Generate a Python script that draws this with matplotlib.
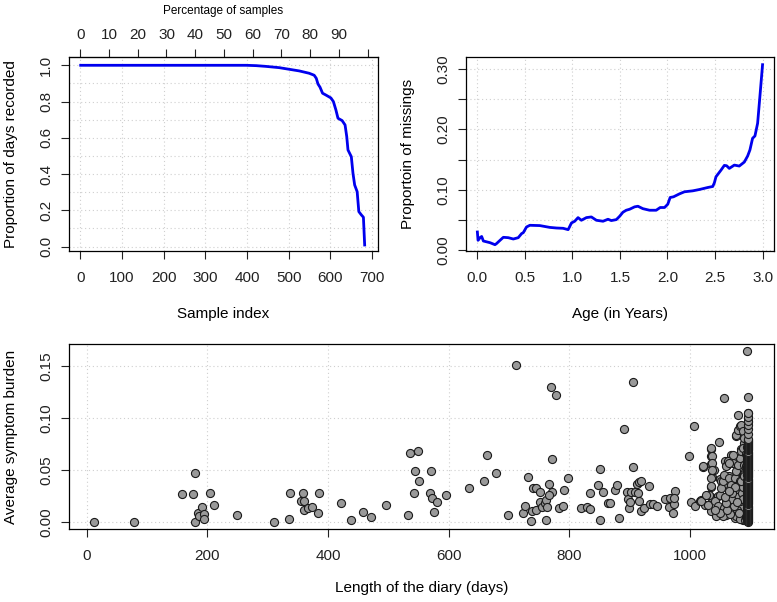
import matplotlib.pyplot as plt

plt.rcParams['font.family'] = ['Liberation Sans', 'DejaVu Sans']

# top left: sorted proportion of days recorded
n_samples = 689
sample_idx = [1, 398, 422, 445, 477, 501, 525, 549, 561, 566, 570, 575, 581, 589,
              601, 607, 613, 618, 628, 635, 639, 642, 650, 654, 658, 664, 668,
              674, 679, 682]
prop_recorded = [1.0, 1.0, 0.998, 0.994, 0.987, 0.978, 0.969, 0.956, 0.945, 0.928,
                 0.897, 0.879, 0.846, 0.836, 0.82, 0.8, 0.754, 0.708, 0.695, 0.671,
                 0.607, 0.533, 0.496, 0.404, 0.34, 0.303, 0.193, 0.175, 0.162, 0.009]

# top right: proportion of missings by age
age_years = [0.0, 0.007, 0.028, 0.045, 0.063, 0.133, 0.185, 0.2, 0.238, 0.273, 0.325,
             0.378, 0.43, 0.465, 0.483, 0.517, 0.552, 0.657, 0.762, 0.832, 0.902,
             0.955, 0.99, 1.024, 1.059, 1.094, 1.147, 1.199, 1.252, 1.322, 1.374,
             1.409, 1.462, 1.497, 1.531, 1.566, 1.601, 1.654, 1.689, 1.741, 1.811,
             1.881, 1.923, 1.969, 2.003, 2.028, 2.063, 2.126, 2.178, 2.266, 2.336,
             2.423, 2.476, 2.493, 2.51, 2.563, 2.598, 2.622, 2.65, 2.703, 2.755,
             2.808, 2.843, 2.867, 2.895, 2.92, 2.948, 2.972, 3.0]
prop_missing = [0.0304, 0.0166, 0.021, 0.023, 0.0155, 0.0127, 0.0094, 0.011, 0.0166,
                0.0216, 0.021, 0.0188, 0.021, 0.0277, 0.0293, 0.0387, 0.0415, 0.041,
                0.038, 0.037, 0.0365, 0.0343, 0.0454, 0.0482, 0.0542, 0.0498, 0.0542,
                0.0553, 0.0498, 0.0482, 0.0515, 0.0493, 0.0509, 0.0565, 0.0631,
                0.0664, 0.068, 0.072, 0.073, 0.069, 0.0664, 0.0664, 0.0709, 0.0709,
                0.0764, 0.0875, 0.0886, 0.0935, 0.0969, 0.0985, 0.1007, 0.104,
                0.1057, 0.1118, 0.1218, 0.1328, 0.1406, 0.14, 0.1356, 0.1411, 0.1395,
                0.1461, 0.1561, 0.1661, 0.1854, 0.1893, 0.2103, 0.2546, 0.3072]

# bottom: diary length vs average symptom burden
diary_len = [13, 79, 158, 177, 180, 179, 185, 187, 192, 194, 195, 204, 211, 250, 311,
             335, 337, 355, 359, 360, 361, 367, 374, 384, 386, 422, 439, 458, 472,
             496, 532, 536, 550, 545, 551, 542, 571, 569, 572, 580, 576, 596, 633,
             659, 664, 679, 699, 712, 724, 727, 732, 736, 738, 739, 744, 745, 752,
             752, 755, 760, 761, 762, 763, 766, 770, 771, 772, 767, 778, 783, 790,
             791, 797, 820, 830, 834, 834, 848, 851, 851, 856, 864, 867, 876, 879,
             882, 891, 895, 897, 899, 901, 902, 906, 905, 908, 912, 914, 915, 916,
             918, 919, 923, 932, 933, 938, 945, 959, 966, 965, 972, 974, 975, 974,
             998, 1002, 1007, 1008, 1016, 1018, 1021, 1024, 1029, 1034, 1034, 1035,
             1035, 1035, 1036, 1035, 1039, 1043, 1046, 1048, 1049, 1051, 1054, 1057,
             1057, 1058, 1060, 1062, 1064, 1065, 1068, 1071, 1073, 1075, 1076, 1079,
             1080, 1083, 1085, 1086, 1087, 1088, 1090, 1091, 1093, 1095, 1096, 1096,
             1096, 1096,
             1035, 1037, 1037, 1036, 1035, 1035, 1021, 1032, 1018, 1026, 1029, 1041,
             1046, 1049, 1052, 1054, 1057, 1060, 1063, 1065, 1068, 1071, 1074, 1076,
             1079, 1082, 1085, 1087, 1071, 1065, 1082, 1085, 1087, 1076, 1071, 1060,
             1057, 1054, 1049, 1041, 1065, 1074, 1079, 1082, 1085, 1087, 1090, 1090,
             1092, 1090, 1093, 1076, 1079, 1082, 1085, 1087, 1090,
             1088, 1090, 1092, 1089, 1091, 1093, 1094, 1092, 1094, 1093, 1086, 1084,
             1082, 1080, 1078, 1076, 1083, 1079, 1086, 1088, 1085, 1090, 1072, 1068,
             1066, 1062, 1070, 1074, 1060, 1058, 1064, 1094, 1092, 1094, 1091, 1087,
             1081, 1077, 1089, 1093]
burden = [0.0, 0.0, 0.027, 0.0267, 0.047, 0.0, 0.0087, 0.0061, 0.0148, 0.0077, 0.0029,
          0.028, 0.0164, 0.0071, 0.0, 0.0032, 0.028, 0.0206, 0.028, 0.02, 0.0116,
          0.0135, 0.0148, 0.0084, 0.028, 0.0183, 0.0019, 0.0096, 0.0051, 0.0167,
          0.0064, 0.0662, 0.0687, 0.0488, 0.0395, 0.028, 0.0488, 0.028, 0.0234,
          0.019, 0.01, 0.026, 0.0328, 0.0398, 0.0642, 0.0469, 0.0067, 0.1513, 0.0087,
          0.016, 0.0437, 0.001, 0.0103, 0.0324, 0.0324, 0.0119, 0.0286, 0.0193,
          0.0141, 0.0183, 0.0022, 0.0215, 0.0145, 0.0363, 0.1304, 0.0286, 0.0607,
          0.0263, 0.122, 0.0135, 0.0151, 0.0305, 0.0424, 0.0138, 0.0145, 0.0125,
          0.028, 0.0357, 0.0514, 0.0019, 0.0292, 0.0183, 0.0183, 0.0308, 0.0353,
          0.0042, 0.0896, 0.0292, 0.0222, 0.0135, 0.0193, 0.0286, 0.1352, 0.053,
          0.0286, 0.0366, 0.028, 0.0199, 0.0382, 0.0398, 0.0109, 0.0132, 0.0344,
          0.017, 0.0177, 0.0151, 0.0222, 0.0234, 0.0145, 0.0087, 0.017, 0.0296,
          0.0228, 0.0636, 0.0193, 0.0922, 0.0151, 0.0199, 0.0215, 0.0527, 0.0167,
          0.0257, 0.0244, 0.0103, 0.0707, 0.0633, 0.0562, 0.043, 0.0337, 0.0504,
          0.0055, 0.0254, 0.0768, 0.0414, 0.0392, 0.0357, 0.1192, 0.0087, 0.0585,
          0.0215, 0.0553, 0.0447, 0.0183, 0.0649, 0.0569, 0.0382, 0.028, 0.0826,
          0.1034, 0.0874, 0.0912, 0.0707, 0.0922, 0.0639, 0.0472, 0.0761, 0.0215,
          0.0938, 0.1651, 0.1205, 0.105, 0.1002, 0.0961,
          0.0713, 0.0633, 0.0569, 0.0505, 0.0424, 0.0344, 0.0537, 0.0264, 0.02,
          0.0264, 0.0168, 0.02, 0.0152, 0.0264, 0.0328, 0.0392, 0.0457, 0.0537,
          0.0585, 0.0424, 0.036, 0.0296, 0.0424, 0.0489, 0.0553, 0.0617, 0.0681,
          0.0713, 0.0649, 0.0569, 0.0392, 0.0264, 0.0168, 0.02, 0.0104, 0.0071,
          0.0136, 0.0055, 0.0087, 0.012, 0.0168, 0.0039, 0.0104, 0.0039, 0.0312,
          0.0457, 0.0553, 0.036, 0.0232, 0.0104, 0.0055, 0.0842, 0.089, 0.0922,
          0.0938, 0.0874, 0.081,
          0.002, 0.006, 0.012, 0.018, 0.024, 0.030, 0.036, 0.042, 0.048, 0.054,
          0.008, 0.014, 0.020, 0.026, 0.012, 0.006, 0.003, 0.032, 0.028, 0.034,
          0.040, 0.046, 0.016, 0.022, 0.008, 0.012, 0.028, 0.034, 0.018, 0.024,
          0.030, 0.060, 0.066, 0.072, 0.002, 0.022, 0.009, 0.019, 0.044, 0.005]
# the solid stack of full-length diaries at ~1096 days
stack_len = 1096
stack_burden = [0.000, 0.001, 0.002, 0.003, 0.004, 0.005, 0.006, 0.007, 0.008, 0.009,
                0.010, 0.011, 0.012, 0.013, 0.014, 0.015, 0.016, 0.017, 0.018, 0.019,
                0.020, 0.021, 0.022, 0.023, 0.024, 0.025, 0.026, 0.027, 0.028, 0.029,
                0.030, 0.031, 0.032, 0.033, 0.034, 0.035, 0.036, 0.037, 0.038, 0.039,
                0.040, 0.041, 0.042, 0.043, 0.044, 0.045, 0.046, 0.047, 0.048, 0.049,
                0.050, 0.051, 0.052, 0.053, 0.054, 0.055, 0.056, 0.057, 0.058, 0.059,
                0.060, 0.061, 0.062, 0.063, 0.064, 0.065, 0.066, 0.067, 0.068, 0.069,
                0.070, 0.071, 0.072, 0.073, 0.074, 0.075, 0.076, 0.077, 0.078, 0.079,
                0.080, 0.0846, 0.0894, 0.0935, 0.0975, 0.1015, 0.1055]
stack2_len = 1094
stack2_burden = [0.001, 0.003, 0.005, 0.007, 0.009, 0.011, 0.013, 0.015, 0.017, 0.019,
                 0.021, 0.023, 0.025, 0.027, 0.029, 0.031, 0.033, 0.035, 0.037, 0.039,
                 0.041, 0.045, 0.049, 0.053, 0.057, 0.061, 0.065]

grid_kw = dict(color='#cfcfcf', ls=(0, (1, 2.5)), lw=0.8)
tick_kw = dict(direction='out', length=5.5, width=0.8, labelsize=11, colors='#222222')
point_kw = dict(s=34, facecolor='#999999', edgecolor='#1a1a1a', linewidth=0.8, zorder=3)


def style(ax):
    for s in ax.spines.values():
        s.set_linewidth(0.9)
    ax.tick_params(axis='both', **tick_kw)
    ax.tick_params(axis='x', pad=9)
    ax.tick_params(axis='y', pad=6, labelrotation=90)
    for lab in ax.get_yticklabels():
        lab.set_va('center')
    ax.set_axisbelow(True)


fig = plt.figure(figsize=(7.77, 6.02), dpi=100)

# ---- top left
ax1 = fig.add_axes([0.0888, 0.5831, 0.3977, 0.3223])
ax1.plot(sample_idx, prop_recorded, color='#0000ee', lw=2.0, zorder=3)
ax1.set_xlim(-27, 714)
ax1.set_ylim(-0.024, 1.046)
ax1.set_xticks(range(0, 701, 100))
ax1.set_yticks([0.0, 0.2, 0.4, 0.6, 0.8, 1.0])
ax1.yaxis.set_minor_locator(plt.FixedLocator([0.1, 0.3, 0.5, 0.7, 0.9]))
ax1.tick_params(axis='y', which='minor', length=0)
ax1.grid(True, which='both', **grid_kw)
ax1.set_xlabel('Sample index', fontsize=11)
ax1.set_ylabel('Proportion of days recorded', fontsize=11)
style(ax1)
ax1.xaxis.set_label_coords(0.5, -0.29)
ax1.yaxis.set_label_coords(-0.165, 0.5)

sec = ax1.secondary_xaxis('top', functions=(lambda x: x / n_samples * 100,
                                              lambda p: p * n_samples / 100))
sec.set_xticks(range(0, 101, 10))
sec.set_xticklabels([str(p) for p in range(0, 100, 10)] + [''])
sec.tick_params(direction='out', length=5.5, width=0.8, labelsize=11, pad=5,
                colors='#222222')
sec.set_xlabel('Percentage of samples', fontsize=8.5, labelpad=10)

# ---- top right
ax2 = fig.add_axes([0.5997, 0.5831, 0.3964, 0.3223])
ax2.plot(age_years, prop_missing, color='#0000ee', lw=2.0, zorder=3)
ax2.set_xlim(-0.12, 3.12)
ax2.set_ylim(-0.001, 0.32)
ax2.set_xticks([0.0, 0.5, 1.0, 1.5, 2.0, 2.5, 3.0])
ax2.set_yticks([0.0, 0.05, 0.10, 0.15, 0.20, 0.25, 0.30])
ax2.set_yticklabels(['0.00', '', '0.10', '', '0.20', '', '0.30'])
ax2.grid(True, **grid_kw)
ax2.set_xlabel('Age (in Years)', fontsize=11)
ax2.set_ylabel('Proportoin of missings', fontsize=11)
style(ax2)
ax2.xaxis.set_label_coords(0.5, -0.29)
ax2.yaxis.set_label_coords(-0.165, 0.5)

# ---- bottom
ax3 = fig.add_axes([0.0888, 0.1213, 0.9073, 0.3073])
ax3.scatter(diary_len, burden, **point_kw)
ax3.scatter([stack2_len] * len(stack2_burden), stack2_burden, **point_kw)
ax3.scatter([stack_len] * len(stack_burden), stack_burden, **point_kw)
ax3.set_xlim(-29, 1139)
ax3.set_ylim(-0.0066, 0.1716)
ax3.set_xticks(range(0, 1001, 200))
ax3.set_yticks([0.0, 0.05, 0.10, 0.15])
ax3.set_yticklabels(['0.00', '0.05', '0.10', '0.15'])
ax3.grid(True, **grid_kw)
ax3.set_xlabel('Length of the diary (days)', fontsize=11)
ax3.set_ylabel('Average symptom burden', fontsize=11)
style(ax3)
ax3.xaxis.set_label_coords(0.5, -0.28)
ax3.yaxis.set_label_coords(-0.073, 0.5)

fig.savefig('out.png', dpi=100)
